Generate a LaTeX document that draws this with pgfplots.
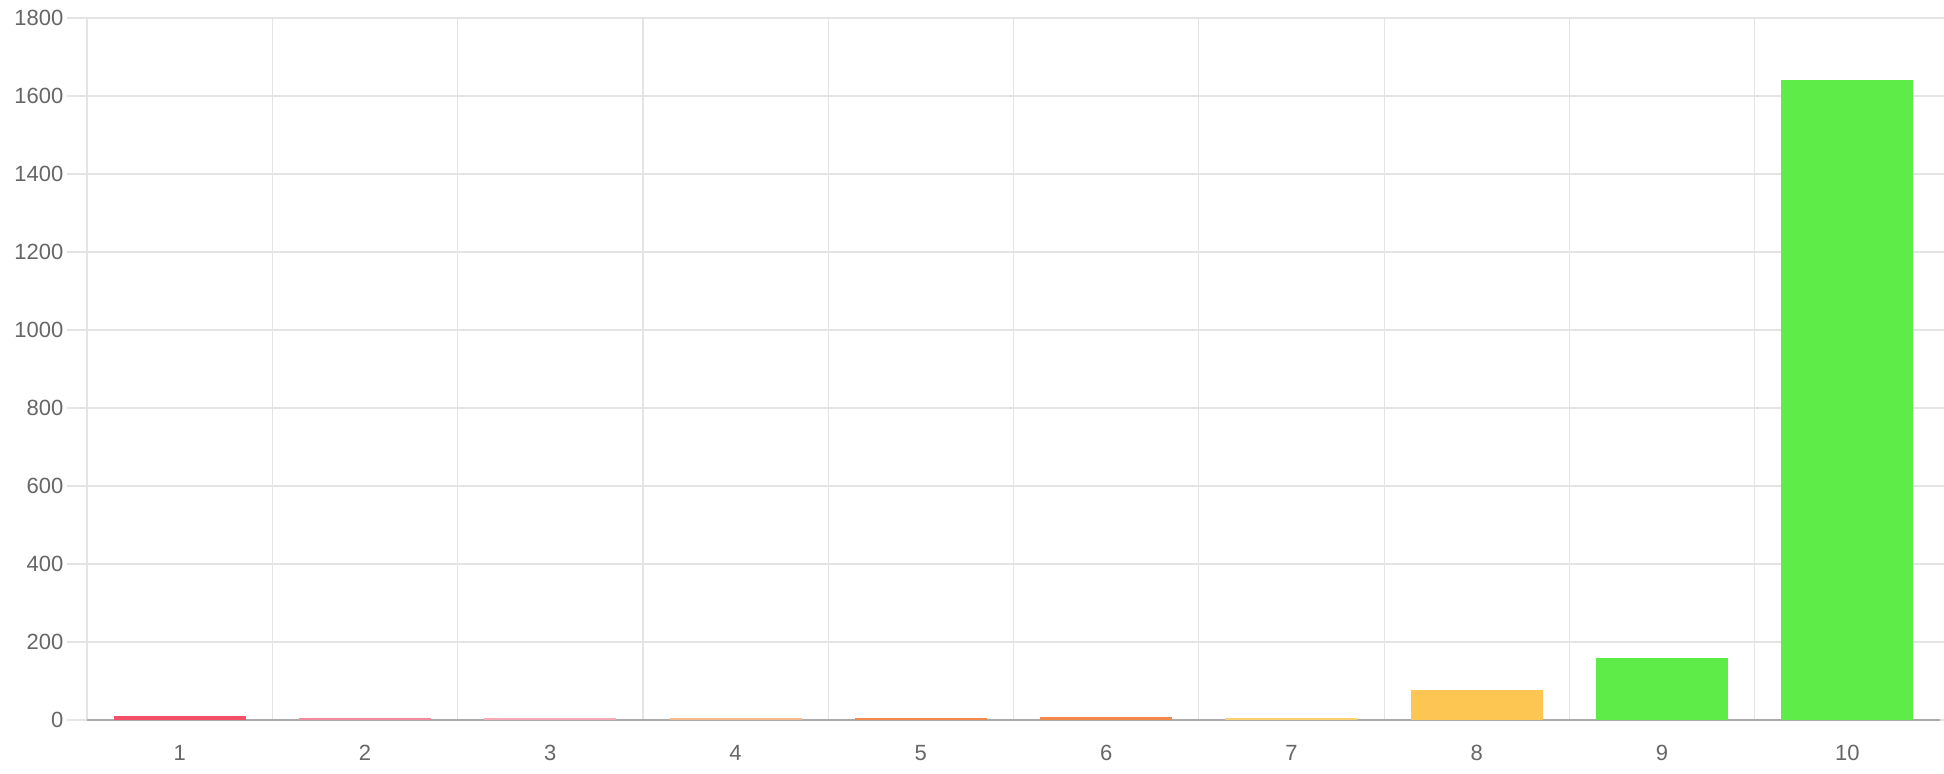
\documentclass[border=0pt]{standalone}
\usepackage{pgfplots}
\pgfplotsset{compat=1.18}
\usepackage{fontspec}
\setmainfont{Liberation Sans}
\definecolor{txt}{HTML}{666666}
\definecolor{gridc}{HTML}{E4E4E4}
\definecolor{zeroc}{HTML}{AAAAAA}
\definecolor{c1}{HTML}{F25068}
\definecolor{c2}{HTML}{F28BA0}
\definecolor{c3}{HTML}{F5AAB8}
\definecolor{c4}{HTML}{F5BB8E}
\definecolor{c5}{HTML}{F28A50}
\definecolor{c6}{HTML}{F2884A}
\definecolor{c7}{HTML}{FAD072}
\definecolor{c8}{HTML}{FDC552}
\definecolor{c9}{HTML}{5DEC48}
\begin{document}
\begin{tikzpicture}
\useasboundingbox (-43.5pt,-27pt) rectangle (928.5pt,360pt);
\begin{axis}[
width=926.5pt,
height=351pt,
scale only axis,
xmin=0.5, xmax=10.5,
ymin=0, ymax=1800,
ytick={0,200,...,1800},
xtick={1,...,10},
axis line style={draw=none},
tick align=outside,
major tick length=10pt,
x tick style={draw=none},
y tick style={gridc, line width=0.6pt},
ymajorgrids,
grid style={gridc, line width=0.6pt},
extra x ticks={0.5,1.5,...,9.5},
extra x tick labels={},
extra x tick style={grid=major, major tick length=10pt, tick style={draw=gridc, line width=0.6pt}},
extra y ticks={0},
extra y tick labels={},
extra y tick style={grid style={zeroc, line width=1pt}, tick style={draw=zeroc, line width=1pt}},
tick label style={font=\fontsize{11}{13}\selectfont, text=txt},
/pgf/number format/assume math mode=true,
/pgf/number format/1000 sep={},
yticklabel style={anchor=east, xshift=1.7pt},
xticklabel style={anchor=center, yshift=-6.5pt},
ybar, bar width=0.712, bar shift=0pt,
]
\addplot[fill=c1, draw=none] coordinates {(1,9)};
\addplot[fill=c2, draw=none] coordinates {(2,5)};
\addplot[fill=c3, draw=none] coordinates {(3,4)};
\addplot[fill=c4, draw=none] coordinates {(4,4)};
\addplot[fill=c5, draw=none] coordinates {(5,6)};
\addplot[fill=c6, draw=none] coordinates {(6,8)};
\addplot[fill=c7, draw=none] coordinates {(7,4)};
\addplot[fill=c8, draw=none] coordinates {(8,78)};
\addplot[fill=c9, draw=none] coordinates {(9,160)};
\addplot[fill=c9, draw=none] coordinates {(10,1641)};
\end{axis}
\end{tikzpicture}
\end{document}
